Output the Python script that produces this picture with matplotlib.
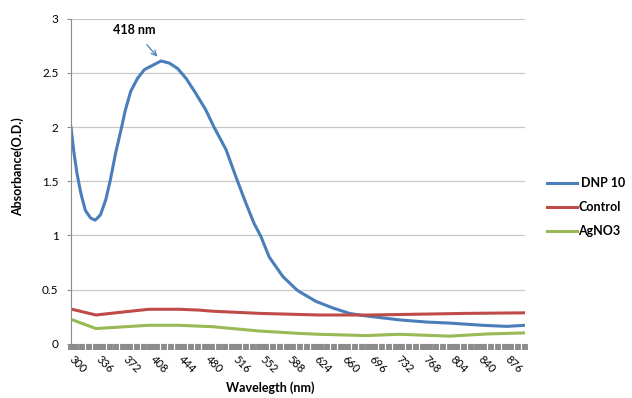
import numpy as np
import matplotlib
matplotlib.use("Agg")
import matplotlib.pyplot as plt
from matplotlib.ticker import MultipleLocator

plt.rcParams['font.family'] = ['Lato', 'DejaVu Sans']

# values
wl_dnp = [300, 304, 308, 313, 319, 326, 332, 339, 346, 352, 359, 366, 372,
          379, 388, 397, 408, 419, 430, 441, 452, 465, 478, 489, 505, 518,
          531, 542, 551, 562, 580, 598, 602, 624, 646, 668, 681, 692, 710,
          734, 770, 801, 844, 876, 900]
abs_dnp = [2.00, 1.76, 1.57, 1.39, 1.23, 1.16, 1.14, 1.19, 1.33, 1.51, 1.76,
           1.97, 2.16, 2.33, 2.45, 2.53, 2.57, 2.61, 2.59, 2.54, 2.45, 2.31,
           2.16, 2.00, 1.79, 1.54, 1.30, 1.11, 0.99, 0.80, 0.62, 0.50, 0.48,
           0.39, 0.33, 0.28, 0.265, 0.255, 0.24, 0.22, 0.20, 0.19, 0.17,
           0.16, 0.17]

wl_ctrl = [300, 333, 372, 403, 443, 470, 487, 549, 628, 695, 823, 900]
abs_ctrl = [0.32, 0.265, 0.295, 0.318, 0.318, 0.31, 0.30, 0.28, 0.265,
            0.265, 0.28, 0.285]

wl_ag = [300, 333, 372, 403, 443, 487, 549, 602, 628, 690, 734, 800, 850, 900]
abs_ag = [0.225, 0.14, 0.157, 0.17, 0.17, 0.157, 0.117, 0.095, 0.087, 0.075,
          0.087, 0.07, 0.09, 0.10]

x_ticks = list(range(300, 877, 36))
peak_label = '418 nm'

fig = plt.figure(figsize=(6.32, 3.98), dpi=100)
ax = fig.add_axes([0.1123, 0.1364, 0.7184, 0.8166])

ax.plot(wl_dnp, abs_dnp, color='#4a7ebb', lw=2.2, label=' DNP 10')
ax.plot(wl_ctrl, abs_ctrl, color='#be4b48', lw=2.2, label='Control')
ax.plot(wl_ag, abs_ag, color='#98b954', lw=2.2, label='AgNO3')

ax.set_xlim(300, 900)
ax.set_ylim(0, 3)
ax.set_yticks([0, 0.5, 1, 1.5, 2, 2.5, 3])
ax.set_yticklabels(['0', '0.5', '1', '1.5', '2', '2.5', '3'])
ax.grid(axis='y', color='#c8c8c8', lw=0.9)
ax.set_axisbelow(True)

ax.set_xticks(x_ticks)
ax.set_xticklabels([str(t) for t in x_ticks], rotation=-45,
                   ha='left', va='center', rotation_mode='anchor')
ax.xaxis.set_minor_locator(MultipleLocator(9))
ax.tick_params(axis='x', which='both', direction='out', length=4,
               width=4.2, color='#8c8c8c', labelsize=8, pad=6)
ax.tick_params(axis='y', length=3, color='#8c8c8c', labelsize=8.5, pad=6)

for s in ['top', 'right']:
    ax.spines[s].set_visible(False)
ax.spines['left'].set_color('#8c8c8c')
ax.spines['bottom'].set_visible(False)

ax.set_xlabel('Wavelegth (nm)', fontsize=9, fontweight='bold', va='center')
ax.xaxis.set_label_coords(0.44, -0.135)
ax.set_ylabel('Absorbance(O.D.)', fontsize=9, fontweight='bold', va='center')
ax.yaxis.set_label_coords(-0.118, 0.544)

ax.annotate(peak_label, xy=(414, 2.65), xytext=(383, 2.90),
            fontsize=9, fontweight='bold', ha='center', va='center',
            arrowprops=dict(arrowstyle='->', color='#4a7ebb', lw=0.9,
                            shrinkA=6, shrinkB=0))

leg = ax.legend(loc='center left', bbox_to_anchor=(1.048, 0.42), frameon=False,
                fontsize=9, handlelength=2.4, handletextpad=0.1,
                labelspacing=0.95, borderpad=0, borderaxespad=0)
for t in leg.get_texts():
    t.set_fontweight('bold')

fig.savefig('out.png', dpi=100)
